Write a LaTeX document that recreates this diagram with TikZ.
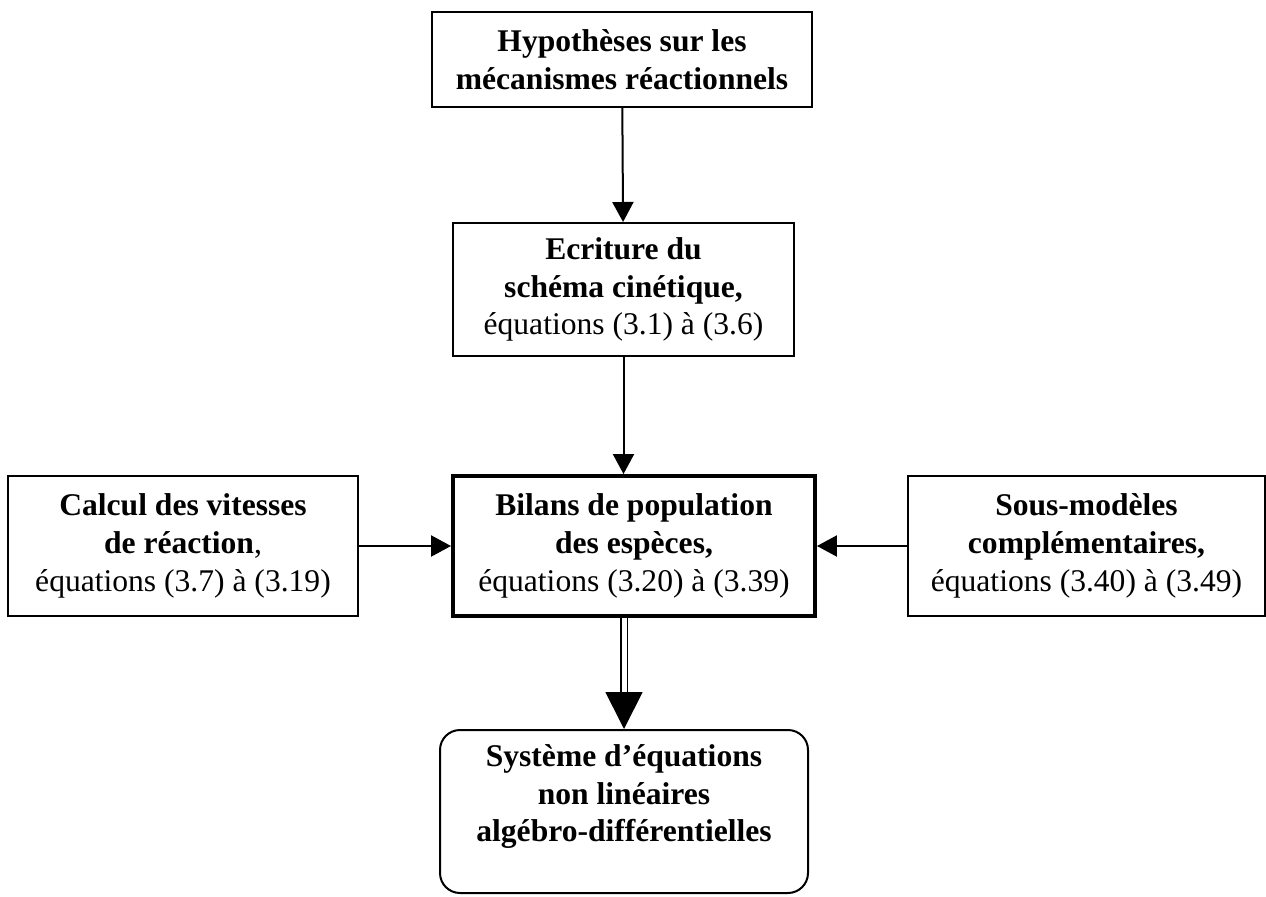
\documentclass[tikz,border=0pt]{standalone}
\usepackage{fontspec}
\setmainfont{Liberation Serif}
\usetikzlibrary{shapes,arrows.meta}

\begin{document}
\begin{tikzpicture}[x=0.38pt,y=-0.38pt,line width=0.76pt,draw=black]
	\fontsize{12pt}{14.4pt}\selectfont
	\def\unitpx{0.38pt}
	\def\attic{59.5}
	\def\rowtwoht{289.5}
	\def\rowoneht{546}
	\def\basement{811.5}

	\useasboundingbox (0,0) rectangle (1266,897);

	\tikzstyle{s-box}=[rectangle,draw,align=center,inner sep=0pt,minimum height=140*\unitpx]
	\tikzstyle{main-box}=[s-box,line width=1.5pt]
	\tikzstyle{end-box}=[s-box,rounded corners=20*\unitpx,text depth=14pt]
	\tikzstyle{flow}=[-{Triangle[length=7.6pt,width=8pt]}]
	\tikzstyle{bigflow}=[double,double distance=1.9pt,line width=0.7pt,-{Triangle[length=14pt,width=14pt]}]

	% chain
	\node[s-box,minimum width=380*\unitpx,minimum height=95*\unitpx]	(hyp)	at (622,\attic)
		{\textbf{Hypothèses sur les}\\\textbf{mécanismes réactionnels}};
	\node[s-box,minimum width=341*\unitpx,minimum height=133*\unitpx]	(ecr)	at (623.5,\rowtwoht)
		{\textbf{Ecriture du}\\\textbf{schéma cinétique,}\\équations (3.1) à (3.6)};

	% middle row
	\node[s-box,minimum width=350*\unitpx]	(calc)	at (183,\rowoneht)
		{\textbf{Calcul des vitesses}\\\textbf{de réaction},\\équations (3.7) à (3.19)};
	\node[main-box,minimum width=362*\unitpx]	(bil)	at (634,\rowoneht)
		{\textbf{Bilans de population}\\\textbf{des espèces,}\\équations (3.20) à (3.39)};
	\node[s-box,minimum width=357*\unitpx]	(sous)	at (1086.5,\rowoneht)
		{\textbf{Sous-modèles}\\\textbf{complémentaires,}\\équations (3.40) à (3.49)};

	% result
	\node[end-box,minimum width=368*\unitpx,minimum height=163*\unitpx]	(sys)	at (624,\basement)
		{\textbf{Système d’équations}\\\textbf{non linéaires}\\\textbf{algébro-différentielles}};

	\path[flow]
		(hyp)			edge	(ecr)
		(ecr.south)		edge	(ecr.south |- bil.north)
		(calc)			edge	(bil)
		(sous)			edge	(bil);
	\draw[bigflow] (sys.north |- bil.south) -- (sys.north);
\end{tikzpicture}
\end{document}
